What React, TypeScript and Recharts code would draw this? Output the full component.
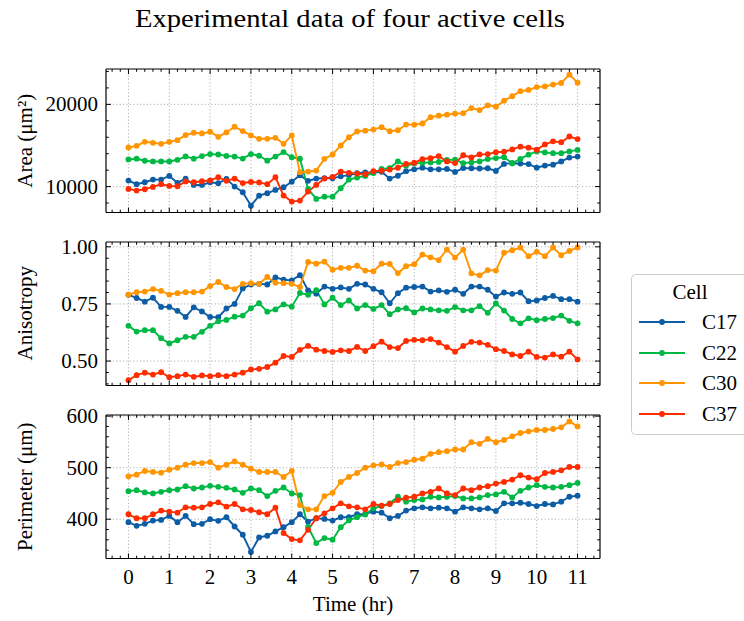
import React from 'react';
import { LineChart, Line, XAxis, YAxis, ReferenceLine } from 'recharts';

const FONT = '"Liberation Serif", "Times New Roman", serif';
const INK = '#000000';
const GRID = '#a8a8a8';

// Sampling times (hr)
const times = [
  0, 0.2, 0.4, 0.6, 0.8, 1, 1.2, 1.4, 1.6, 1.8,
  2, 2.2, 2.4, 2.6, 2.8, 3, 3.2, 3.4, 3.6, 3.8,
  4, 4.2, 4.4, 4.6, 4.8, 5, 5.2, 5.4, 5.6, 5.8,
  6, 6.2, 6.4, 6.6, 6.8, 7, 7.2, 7.4, 7.6, 7.8,
  8, 8.2, 8.4, 8.6, 8.8, 9, 9.2, 9.4, 9.6, 9.8,
  10, 10.2, 10.4, 10.6, 10.8, 11,
];

const cells = ['C17', 'C22', 'C30', 'C37'];
const cellColors = ['#0C5DA5', '#00B945', '#FF9500', '#FF2C00'];

// Area (um^2)
const areaC17 = [
  10730, 10290, 10530, 10850, 10850, 11300, 10450, 10980, 10200, 10200,
  10530, 10410, 10940, 10000, 9310, 7680, 8900, 9190, 9590, 9920,
  10600, 11380, 10700, 10980, 11020, 11000, 11250, 11400, 11620, 11720,
  11700, 11800, 10970, 11320, 11880, 12100, 12300, 12100, 12100, 12150,
  11790, 12250, 12230, 12200, 12230, 11900, 12760, 12840, 12800, 12740,
  12300, 12560, 12660, 13060, 13530, 13650,
];
const areaC22 = [
  13300, 13390, 13140, 13060, 13060, 13060, 13260, 13670, 13390, 13710,
  13950, 13900, 13730, 13650, 13410, 13950, 13750, 13150, 13650, 14200,
  13570, 13400, 9715, 8500, 8780, 8780, 9800, 10850, 11100, 11300,
  11650, 12150, 12250, 13060, 12550, 12800, 12900, 12940, 13000, 13240,
  13280, 12840, 12940, 13060, 13350, 13470, 13570, 12840, 13370, 13880,
  14280, 14160, 14060, 14060, 14280, 14460,
];
const areaC30 = [
  14756, 14959, 15447, 15325, 15203, 15447, 15650, 16260, 16545, 16463,
  16667, 16057, 16585, 17276, 16748, 16220, 15813, 15813, 15935, 15203,
  16220, 11748, 11829, 11951, 13374, 13902, 15000, 16000, 16700, 16800,
  16930, 17230, 16730, 16850, 17540, 17530, 17670, 18440, 18620, 18740,
  18880, 18930, 19550, 19300, 19880, 19720, 20450, 21000, 21600, 21750,
  22100, 22180, 22400, 22600, 23610, 22640,
];
const areaC37 = [
  9715, 9512, 9675, 9960, 10300, 10081, 10040, 10630, 10527, 10650,
  10750, 11136, 10700, 10970, 10430, 10560, 10510, 10300, 11136, 8905,
  8175, 8296, 9390, 10200, 10970, 11170, 11820, 11680, 11580, 11500,
  11880, 11930, 12070, 12290, 12760, 12900, 13350, 13450, 13710, 13060,
  12860, 13810, 13550, 13910, 13950, 14180, 14240, 14520, 14850, 14730,
  14480, 15130, 15500, 15400, 16090, 15780,
];

// Anisotropy
const anisoC17 = [
  0.790, 0.776, 0.760, 0.777, 0.737, 0.737, 0.720, 0.693, 0.735, 0.717,
  0.693, 0.692, 0.730, 0.750, 0.818, 0.835, 0.838, 0.835, 0.866, 0.856,
  0.853, 0.876, 0.809, 0.795, 0.826, 0.816, 0.822, 0.816, 0.838, 0.835,
  0.816, 0.801, 0.753, 0.797, 0.821, 0.824, 0.826, 0.804, 0.809, 0.803,
  0.812, 0.794, 0.826, 0.826, 0.812, 0.782, 0.800, 0.794, 0.800, 0.762,
  0.765, 0.776, 0.785, 0.771, 0.771, 0.760,
];
const anisoC22 = [
  0.654, 0.629, 0.635, 0.635, 0.600, 0.577, 0.591, 0.606, 0.606, 0.628,
  0.654, 0.674, 0.680, 0.694, 0.699, 0.731, 0.753, 0.716, 0.726, 0.748,
  0.738, 0.798, 0.790, 0.810, 0.748, 0.777, 0.745, 0.765, 0.730, 0.745,
  0.728, 0.745, 0.705, 0.726, 0.731, 0.713, 0.730, 0.726, 0.722, 0.720,
  0.736, 0.722, 0.722, 0.740, 0.711, 0.752, 0.721, 0.684, 0.665, 0.687,
  0.679, 0.684, 0.688, 0.699, 0.676, 0.665,
];
const anisoC30 = [
  0.791, 0.801, 0.804, 0.815, 0.807, 0.791, 0.797, 0.801, 0.801, 0.804,
  0.828, 0.846, 0.824, 0.815, 0.838, 0.841, 0.838, 0.868, 0.843, 0.841,
  0.838, 0.824, 0.934, 0.926, 0.935, 0.900, 0.908, 0.908, 0.917, 0.896,
  0.893, 0.926, 0.925, 0.885, 0.915, 0.924, 0.966, 0.954, 0.942, 0.988,
  0.953, 0.988, 0.884, 0.875, 0.898, 0.896, 0.974, 0.985, 0.997, 0.959,
  0.978, 0.959, 0.997, 0.963, 0.982, 0.997,
];
const anisoC37 = [
  0.416, 0.438, 0.449, 0.441, 0.451, 0.429, 0.434, 0.441, 0.431, 0.437,
  0.434, 0.438, 0.434, 0.441, 0.449, 0.463, 0.466, 0.474, 0.493, 0.522,
  0.518, 0.549, 0.566, 0.550, 0.544, 0.540, 0.547, 0.544, 0.562, 0.544,
  0.565, 0.585, 0.561, 0.557, 0.588, 0.593, 0.591, 0.596, 0.581, 0.561,
  0.541, 0.566, 0.584, 0.581, 0.571, 0.552, 0.544, 0.529, 0.522, 0.541,
  0.518, 0.515, 0.529, 0.519, 0.541, 0.507,
];

// Perimeter (um)
const perimC17 = [
  394.2, 387.2, 391.0, 397.4, 398.7, 406.4, 394.2, 406.4, 390.4, 391.0,
  400.0, 396.8, 403.8, 385.9, 369.9, 336.5, 364.7, 367.9, 376.3, 384.6,
  394.2, 409.6, 395.5, 401.9, 400.6, 397.4, 403.8, 403.8, 409.6, 410.3,
  414.7, 412.8, 401.9, 406.4, 416.7, 421.2, 423.1, 421.2, 422.4, 421.2,
  414.7, 423.1, 421.2, 419.2, 421.2, 416.0, 430.8, 430.8, 432.0, 429.5,
  425.6, 429.5, 428.8, 434.0, 443.6, 445.5,
];
const perimC22 = [
  454.5, 456.4, 451.9, 450.0, 453.2, 456.4, 457.7, 464.1, 459.6, 461.5,
  464.7, 462.8, 460.9, 457.7, 451.3, 459.6, 456.4, 444.9, 455.1, 461.5,
  450.0, 446.8, 385.0, 353.8, 363.5, 360.3, 384.6, 398.0, 404.0, 409.0,
  421.2, 425.6, 430.8, 443.6, 434.0, 437.2, 438.5, 443.6, 442.3, 443.6,
  444.9, 440.4, 440.4, 442.3, 446.8, 448.1, 453.2, 442.3, 455.1, 461.5,
  466.0, 462.8, 461.5, 462.8, 466.0, 470.5,
];
const perimC30 = [
  483.3, 486.5, 493.6, 491.7, 490.4, 496.2, 500.0, 505.8, 509.0, 509.0,
  510.9, 500.0, 505.8, 512.2, 505.8, 498.1, 491.7, 491.7, 491.7, 482.0,
  493.6, 427.6, 419.2, 419.2, 444.9, 451.3, 472.4, 482.0, 489.7, 500.0,
  504.5, 506.4, 501.3, 509.0, 510.9, 515.4, 517.3, 526.9, 530.1, 532.0,
  535.3, 535.3, 549.4, 546.2, 555.8, 549.4, 553.8, 560.9, 567.3, 570.5,
  573.1, 573.1, 575.0, 578.2, 589.7, 580.1,
];
const perimC37 = [
  409.6, 401.9, 401.9, 409.6, 416.7, 414.7, 412.8, 423.1, 422.4, 423.1,
  429.5, 432.7, 424.4, 429.5, 419.2, 417.9, 413.5, 409.6, 422.4, 373.1,
  361.5, 359.0, 379.5, 401.9, 411.5, 421.2, 430.8, 425.0, 423.1, 419.2,
  429.5, 426.3, 429.5, 437.2, 441.7, 443.6, 450.0, 453.2, 459.6, 450.0,
  446.8, 459.6, 456.4, 461.5, 464.1, 469.2, 472.4, 476.9, 485.3, 480.8,
  477.6, 489.7, 491.7, 494.9, 501.3, 501.3,
];

// Axis ticks
const xMajorTicks = [0, 1, 2, 3, 4, 5, 6, 7, 8, 9, 10, 11];
const xMinorStep = 0.2;
const X_DOMAIN: [number, number] = [-0.55, 11.55];

const areaMajor = [10000, 20000];
const anisoMajor = [0.5, 0.75, 1.0];
const perimMajor = [400, 500, 600];

const TITLE = 'Experimental data of four active cells';
const X_LABEL = 'Time (hr)';
const LEGEND_TITLE = 'Cell';

// Geometry of the stacked axes
const PLOT_LEFT = 106;
const PLOT_RIGHT = 600;
const PLOT_W = PLOT_RIGHT - PLOT_LEFT;
const PLOT_H = 143.5;
const MAJOR_LEN = 5;
const MINOR_LEN = 2.8;
const TICK_FONT = 21;
const AX = 1; // thickness reserved for each axis band

const near = (a: number, b: number) => Math.abs(a - b) < 1e-6;

function stepTicks(from: number, to: number, step: number): number[] {
  const n = Math.round((to - from) / step);
  const out: number[] = [];
  for (let k = 0; k <= n; k++) out.push(+(from + k * step).toFixed(4));
  return out;
}

const xTicks = stepTicks(-0.4, 11.4, xMinorStep);

function buildRows(series: number[][]) {
  return times.map((t, i) => {
    const row: Record<string, number> = { t };
    cells.forEach((c, j) => {
      row[c] = series[j][i];
    });
    return row;
  });
}

type PanelCfg = {
  key: string;
  rows: Record<string, number>[];
  domain: [number, number];
  major: number[];
  minor: number[];
  fmt: (v: number) => string;
  plotTop: number;
  showX: boolean;
};

const panels: PanelCfg[] = [
  {
    key: 'area',
    rows: buildRows([areaC17, areaC22, areaC30, areaC37]),
    domain: [6850, 24300],
    major: areaMajor,
    minor: stepTicks(8000, 24000, 2000),
    fmt: (v) => String(v),
    plotTop: 69,
    showX: false,
  },
  {
    key: 'aniso',
    rows: buildRows([anisoC17, anisoC22, anisoC30, anisoC37]),
    domain: [0.393, 1.021],
    major: anisoMajor,
    minor: stepTicks(0.4, 1.0, 0.05),
    fmt: (v) => v.toFixed(2),
    plotTop: 241.5,
    showX: false,
  },
  {
    key: 'perim',
    rows: buildRows([perimC17, perimC22, perimC30, perimC37]),
    domain: [323.8, 602.2],
    major: perimMajor,
    minor: stepTicks(340, 600, 20),
    fmt: (v) => String(v),
    plotTop: 415,
    showX: true,
  },
];

const yLabels = ['Area (μm²)', 'Anisotropy', 'Perimeter (μm)'];

function Panel({ cfg }: { cfg: PanelCfg }) {
  const pad = 12;
  const bottomPad = cfg.showX ? 621 - (cfg.plotTop + PLOT_H) : 12;
  const h = pad + PLOT_H + bottomPad;
  const yTicks = Array.from(new Set([...cfg.minor, ...cfg.major])).sort((a, b) => a - b);
  const isMajorY = (v: number) => cfg.major.some((m) => near(m, v));
  const isMajorX = (v: number) => near(v, Math.round(v));

  // Inward ticks on the bottom and top spines, plus the bottom labels
  const xTick = (p: any) => {
    const v = p.payload.value;
    const len = isMajorX(v) ? MAJOR_LEN : MINOR_LEN;
    const yTop = p.y - PLOT_H;
    return (
      <g>
        <line x1={p.x} x2={p.x} y1={p.y} y2={p.y - len} stroke={INK} strokeWidth={1} />
        <line x1={p.x} x2={p.x} y1={yTop} y2={yTop + len} stroke={INK} strokeWidth={1} />
        {isMajorX(v) && cfg.showX ? (
          <text x={p.x} y={p.y + 25} textAnchor="middle" fontSize={TICK_FONT} fontFamily={FONT} fill={INK}>
            {String(Math.round(v))}
          </text>
        ) : null}
      </g>
    );
  };
  // Inward ticks on the left and right spines, plus the left labels
  const yTick = (p: any) => {
    const v = p.payload.value;
    const major = isMajorY(v);
    const len = major ? MAJOR_LEN : MINOR_LEN;
    const xRight = p.x + PLOT_W;
    return (
      <g>
        <line x1={p.x} x2={p.x + len} y1={p.y} y2={p.y} stroke={INK} strokeWidth={1} />
        <line x1={xRight} x2={xRight - len} y1={p.y} y2={p.y} stroke={INK} strokeWidth={1} />
        {major ? (
          <text x={p.x - 8} y={p.y + 7} textAnchor="end" fontSize={TICK_FONT} fontFamily={FONT} fill={INK}>
            {cfg.fmt(v)}
          </text>
        ) : null}
      </g>
    );
  };

  const axisLine = { stroke: INK, strokeWidth: 1.2 };

  return (
    <div style={{ position: 'absolute', left: 0, top: cfg.plotTop - pad, width: 744, height: h }}>
      <LineChart
        width={744}
        height={h}
        data={cfg.rows}
        margin={{ top: pad - AX, right: 744 - PLOT_RIGHT - AX, bottom: bottomPad - AX, left: PLOT_LEFT - AX }}
      >
        <XAxis
          xAxisId="b"
          dataKey="t"
          type="number"
          domain={X_DOMAIN}
          allowDataOverflow
          ticks={xTicks}
          interval={0}
          height={AX}
          tickSize={0}
          tickMargin={0}
          tickLine={false}
          axisLine={axisLine}
          tick={xTick}
        />
        <XAxis
          xAxisId="t"
          orientation="top"
          dataKey="t"
          type="number"
          domain={X_DOMAIN}
          allowDataOverflow
          height={AX}
          tickLine={false}
          axisLine={axisLine}
          tick={false}
        />
        <YAxis
          yAxisId="l"
          type="number"
          domain={cfg.domain}
          allowDataOverflow
          ticks={yTicks}
          interval={0}
          width={AX}
          tickSize={0}
          tickMargin={0}
          tickLine={false}
          axisLine={axisLine}
          tick={yTick}
        />
        <YAxis
          yAxisId="r"
          orientation="right"
          type="number"
          domain={cfg.domain}
          allowDataOverflow
          width={AX}
          tickLine={false}
          axisLine={axisLine}
          tick={false}
        />
        {xMajorTicks.map((v) => (
          <ReferenceLine
            key={'gx' + v}
            xAxisId="b"
            yAxisId="l"
            x={v}
            stroke={GRID}
            strokeWidth={0.9}
            strokeDasharray="1.2 2.2"
          />
        ))}
        {cfg.major.map((v) => (
          <ReferenceLine
            key={'gy' + v}
            xAxisId="b"
            yAxisId="l"
            y={v}
            stroke={GRID}
            strokeWidth={0.9}
            strokeDasharray="1.2 2.2"
          />
        ))}
        {cells.map((c, i) => (
          <Line
            key={c}
            xAxisId="b"
            yAxisId="l"
            type="linear"
            dataKey={c}
            stroke={cellColors[i]}
            strokeWidth={1.9}
            dot={{ r: 2.9, fill: cellColors[i], stroke: cellColors[i], strokeWidth: 0 }}
            activeDot={false}
            isAnimationActive={false}
          />
        ))}
      </LineChart>
    </div>
  );
}

function Overlay() {
  const legendRows = [322, 353, 383, 414];
  return (
    <svg
      width={744}
      height={621}
      style={{ position: 'absolute', left: 0, top: 0, pointerEvents: 'none' }}
    >
      <text x={350} y={27} textAnchor="middle" fontSize={26} fontFamily={FONT} fill={INK} textLength={430} lengthAdjust="spacingAndGlyphs">
        {TITLE}
      </text>
      {panels.map((p, i) => (
        <text
          key={p.key}
          transform={`translate(32, ${p.plotTop + PLOT_H / 2}) rotate(-90)`}
          textAnchor="middle"
          fontSize={21}
          fontFamily={FONT}
          fill={INK}
        >
          {yLabels[i]}
        </text>
      ))}
      <text x={353} y={611} textAnchor="middle" fontSize={21} fontFamily={FONT} fill={INK}>
        {X_LABEL}
      </text>
      <rect x={631.5} y={274.5} width={130} height={160} rx={4} fill="#ffffff" fillOpacity={0.8} stroke="#cccccc" strokeWidth={1} />
      <text x={690} y={299} textAnchor="middle" fontSize={21} fontFamily={FONT} fill={INK}>
        {LEGEND_TITLE}
      </text>
      {cells.map((c, i) => (
        <g key={c}>
          <line x1={639} x2={685} y1={legendRows[i]} y2={legendRows[i]} stroke={cellColors[i]} strokeWidth={1.9} />
          <circle cx={662} cy={legendRows[i]} r={2.9} fill={cellColors[i]} />
          <text x={702} y={legendRows[i] + 7} fontSize={21} fontFamily={FONT} fill={INK}>
            {c}
          </text>
        </g>
      ))}
    </svg>
  );
}

export default function App() {
  return (
    <div style={{ position: 'absolute', left: 0, top: 0, width: 744, height: 621, overflow: 'hidden', background: '#ffffff' }}>
      {panels.map((p) => (
        <Panel key={p.key} cfg={p} />
      ))}
      <Overlay />
    </div>
  );
}
